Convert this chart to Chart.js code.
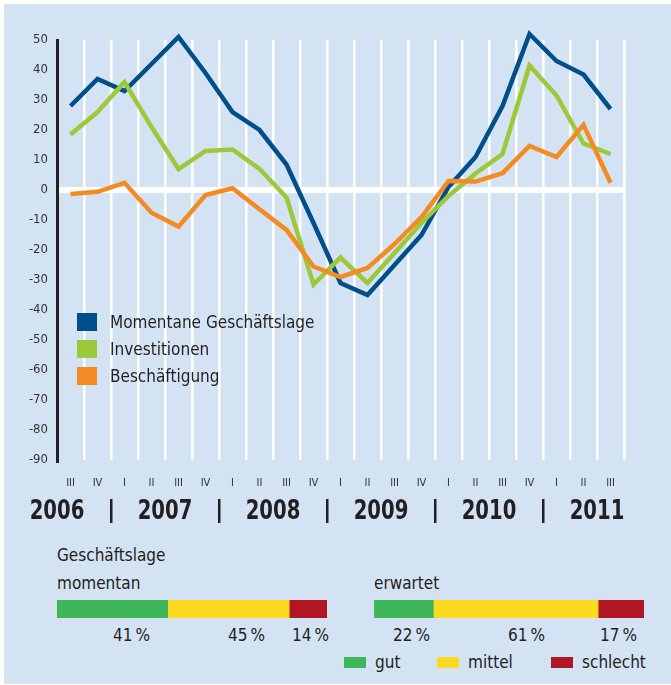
<!DOCTYPE html>
<html lang="de">
<head>
<meta charset="UTF-8">
<title>Geschäftslage</title>
<script src="https://cdn.jsdelivr.net/npm/chart.js@4"></script>
<style>
  body { margin: 0; background: #fff; font-family: 'Liberation Sans Narrow', 'DejaVu Sans Condensed', sans-serif; color: #231f20; }
  #panel { position: absolute; left: 4px; top: 4px; width: 667px; height: 680px; background: #d4e3f3; }
  #main { position: absolute; left: 0; top: 0; }
  .lg { position: absolute; left: 77px; width: 20px; height: 18px; }
  .lgt { position: absolute; left: 110px; font-size: 17px; line-height: 18px; }
  .txt { position: absolute; font-size: 17px; line-height: 17px; }
  .bar { position: absolute; top: 600px; }
  .sq { position: absolute; top: 657px; width: 22px; height: 11px; }
</style>
</head>
<body>
<div id="panel"></div>
<canvas id="main" width="671" height="530"></canvas>
<div id="legend"></div>

<div class="txt" style="left:57px; top:547px">Geschäftslage</div>
<div class="txt" style="left:57px; top:575px">momentan</div>
<div class="txt" style="left:374px; top:575px">erwartet</div>
<canvas id="barNow" class="bar" width="270" height="18" style="left:57px"></canvas>
<canvas id="barExp" class="bar" width="270" height="18" style="left:374px"></canvas>
<div id="pct"></div>
<div id="barLegend"></div>

<script>
// Quartale 2006 III bis 2011 III
var quarterLabels = ['III','IV','I','II','III','IV','I','II','III','IV','I','II','III','IV','I','II','III','IV','I','II','III'];
var quarterYears  = [2006,2006,2007,2007,2007,2007,2008,2008,2008,2008,2009,2009,2009,2009,2010,2010,2010,2010,2011,2011,2011];
var quarterNumber = [3,4,1,2,3,4,1,2,3,4,1,2,3,4,1,2,3,4,1,2,3];

var seriesNames  = ['Momentane Geschäftslage', 'Investitionen', 'Beschäftigung'];
var seriesColors = ['#004e8a', '#9cc93a', '#f38b22'];

var geschaeftslage = [28, 37, 33, 42, 51, 39, 26, 20, 8.5, -11, -31, -35, -25, -15, 1, 11, 28, 52, 43, 38.5, 27];
var investitionen  = [18.5, 26, 36, 21, 7, 13, 13.5, 7, -2.5, -31.5, -22.5, -31, -21, -11, -2, 5.5, 12, 41.5, 31.5, 15.5, 12];
var beschaeftigung = [-1.3, -0.6, 2.4, -7.6, -12.2, -1.7, 0.6, -6.4, -13.3, -25.5, -29, -26, -18, -9, 3, 2.8, 5.6, 14.7, 11, 21.7, 2.4];

// Balken unten
var barCategories = ['gut', 'mittel', 'schlecht'];
var barColors     = ['#3db75a', '#fdd920', '#b01722'];
var momentan      = [41, 45, 14];
var erwartet      = [22, 61, 17];

var FONT = "'Liberation Sans Narrow', 'DejaVu Sans Condensed', sans-serif";
var TEXT = '#231f20';

// Jahreszahlen und Trennstriche unter der Achse
var yearPlugin = {
  id: 'years',
  afterDraw: function(chart) {
    var c = chart.ctx, xs = chart.scales.x;
    var step = xs.getPixelForValue(1) - xs.getPixelForValue(0);
    var years = [];
    quarterYears.forEach(function(y) { if (years.indexOf(y) < 0) years.push(y); });
    c.save();
    c.fillStyle = TEXT;
    years.forEach(function(y, k) {
      var first = quarterYears.indexOf(y);
      var qStart = first - (quarterNumber[first] - 1);  // Index von Quartal I
      var center = xs.getPixelForValue(qStart) + 1.5 * step;
      c.save();
      c.translate(center, 512);
      c.scale(0.84, 1);   // schmal laufende Schrift
      c.font = 'bold 26px ' + FONT;
      c.textAlign = 'center';
      c.textBaseline = 'middle';
      c.fillText(String(y), 0, 0);
      c.restore();
      if (k > 0) {
        var sep = xs.getPixelForValue(first) - step / 2;
        c.fillRect(sep - 1, 499, 2.5, 24);
      }
    });
    c.restore();
  }
};

var sets = [geschaeftslage, investitionen, beschaeftigung];
var drawOrder = [2, 1, 0];

new Chart(document.getElementById('main'), {
  type: 'line',
  data: {
    labels: quarterLabels,
    datasets: sets.map(function(d, i) {
      return {
        label: seriesNames[i],
        data: d,
        borderColor: seriesColors[i],
        backgroundColor: seriesColors[i],
        borderWidth: 4.5,
        pointRadius: 0,
        tension: 0,
        borderJoinStyle: 'miter',
        clip: false,
        order: drawOrder[i]
      };
    })
  },
  options: {
    responsive: false,
    animation: false,
    layout: { padding: { top: 40, right: 47, bottom: 0, left: 0 } },
    plugins: { legend: { display: false }, tooltip: { enabled: false } },
    scales: {
      x: {
        offset: true,
        grid: {
          offset: true,
          drawTicks: false,
          lineWidth: 2.5,
          color: function(ctx) { return ctx.index === 0 ? 'rgba(0,0,0,0)' : '#ffffff'; }
        },
        border: { display: false },
        ticks: { autoSkip: false, maxRotation: 0, padding: 17, color: '#333', font: { family: FONT, size: 11 } },
        afterFit: function(s) { s.height = 70; }
      },
      y: {
        min: -90,
        max: 50,
        ticks: { stepSize: 10, padding: 9, color: '#333', font: { family: FONT, size: 13 } },
        grid: {
          drawTicks: false,
          lineWidth: 6,
          color: function(ctx) { return ctx.tick && ctx.tick.value === 0 ? '#ffffff' : 'rgba(0,0,0,0)'; }
        },
        border: { color: TEXT, width: 3 },
        afterFit: function(s) { s.width = 57; }
      }
    }
  },
  plugins: [yearPlugin]
});

// Legende im Diagramm
var lg = '';
seriesNames.forEach(function(n, i) {
  var top = 313 + i * 27;
  lg += '<div class="lg" style="top:' + top + 'px;background:' + seriesColors[i] + '"></div>';
  lg += '<div class="lgt" style="top:' + top + 'px">' + n + '</div>';
});
document.getElementById('legend').innerHTML = lg;

function drawBar(id, values) {
  new Chart(document.getElementById(id), {
    type: 'bar',
    data: {
      labels: [''],
      datasets: values.map(function(v, i) {
        return { label: barCategories[i], data: [v], backgroundColor: barColors[i], barPercentage: 1, categoryPercentage: 1, borderWidth: 0 };
      })
    },
    options: {
      indexAxis: 'y',
      responsive: false,
      animation: false,
      layout: { padding: 0 },
      plugins: { legend: { display: false }, tooltip: { enabled: false } },
      scales: {
        x: { stacked: true, min: 0, max: 100, display: false },
        y: { stacked: true, display: false }
      }
    }
  });
}
drawBar('barNow', momentan);
drawBar('barExp', erwartet);

// Prozentangaben
var pctLeft = [113, 228, 292, 393, 508, 600];
var allPct = momentan.concat(erwartet);
var ph = '';
allPct.forEach(function(v, i) {
  ph += '<div class="txt" style="left:' + pctLeft[i] + 'px; top:627px">' + v + '\u2009%</div>';
});
document.getElementById('pct').innerHTML = ph;

// Legende unten
var sqLeft = [344, 437, 551];
var bl = '';
barCategories.forEach(function(n, i) {
  bl += '<div class="sq" style="left:' + sqLeft[i] + 'px;background:' + barColors[i] + '"></div>';
  bl += '<div class="txt" style="left:' + (sqLeft[i] + 31) + 'px; top:654px">' + n + '</div>';
});
document.getElementById('barLegend').innerHTML = bl;
</script>
</body>
</html>
